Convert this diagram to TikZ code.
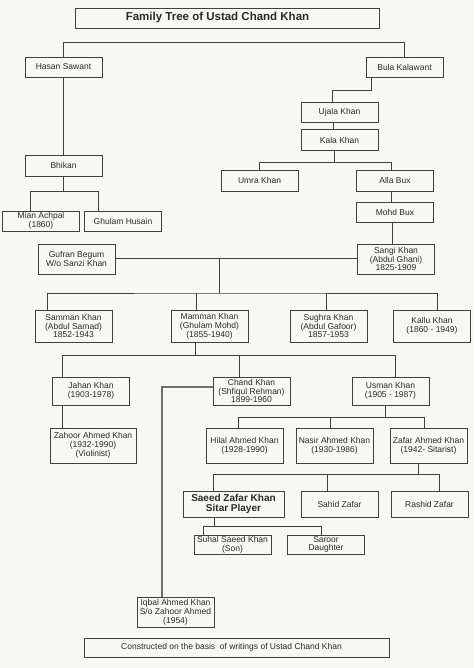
\documentclass[tikz,border=0pt]{standalone}
\usepackage{fontspec}
\setmainfont{Liberation Sans}
\definecolor{bgc}{HTML}{F7F7F3}
\definecolor{lnc}{HTML}{404040}
\definecolor{txc}{HTML}{2A2A2A}
\definecolor{lgc}{HTML}{6E6E6E}
\newcommand*{\ftxt}{\fontsize{8.5}{8.8}\selectfont}
\tikzset{person/.style={draw=lnc, line width=.8pt, fill=bgc, text=txc, minimum width=77, minimum height=20, inner sep=.5pt, align=center, font=\ftxt}}
\tikzset{link/.style={draw=lnc, line width=.8pt}}

\begin{document}
\begin{tikzpicture}[x=1pt, y=-1pt]
    \fill[bgc](0, 0) rectangle (474, 668);
    \node[person, minimum width=304, font=\fontsize{11.5}{13}\selectfont\bfseries](title) at(227, 18){Family Tree of Ustad Chand Khan\hspace*{19pt}};
    \node[person](hasan) at(63.5, 67){Hasan Sawant};
    \node[person](bula) at(404.5, 67){Bula Kalawant};
    \node[person](ujala) at(339.5, 112){Ujala Khan};
    \node[person, minimum height=21](kala) at(339.5, 140){Kala Khan};
    \node[person, minimum height=21](bhikan) at(63.5, 165.5){Bhikan};
    \node[person, minimum height=21](umra) at(259.5, 180.5){Umra Khan};
    \node[person, minimum height=21](alla) at(395, 180.5){Alla Bux};
    \node[person](mohd) at(395, 212){Mohd Bux};
    \node[person](mian) at(41, 221){Mian Achpal\\(1860)};
    \node[person](ghulam) at(123, 221){Ghulam Husain};
    \node[person, minimum height=30](gufran) at(76.5, 259){Gufran Begum\\W/o Sanzi Khan};
    \node[person, minimum height=30](sangi) at(396, 259){Sangi Khan\\(Abdul Ghani)\\1825-1909};
    %sons of Sangi Khan
    \node[person, minimum height=32](samman) at(73.5, 326){Samman Khan\\(Abdul Samad)\\1852-1943};
    \node[person, minimum height=32](mamman) at(209.5, 326){Mamman Khan\\(Ghulam Mohd)\\(1855-1940)};
    \node[person, minimum height=32](sughra) at(328.5, 326){Sughra Khan\\(Abdul Gafoor)\\1857-1953};
    \node[person, minimum height=32](kallu) at(432, 326){Kallu Khan\\(1860 - 1949)};
    %sons of Mamman Khan
    \node[person, minimum height=28](jahan) at(91, 391){Jahan Khan\\(1903-1978)};
    \node[person, minimum height=28](chand) at(251.5, 391){Chand Khan\\(Shfiqul Rehman)\\1899-1960};
    \node[person, minimum height=28](usman) at(390.5, 391){Usman Khan\\(1905 - 1987)};
    \node[person, minimum width=86, minimum height=35](zahoor) at(93, 445.5){Zahoor Ahmed Khan\\(1932-1990)\\(Violinist)};
    \node[person, minimum height=35](hilal) at(244.5, 445.5){Hilal Ahmed Khan\\(1928-1990)};
    \node[person, minimum height=35](nasir) at(334.5, 445.5){Nasir Ahmed Khan\\(1930-1986)};
    \node[person, minimum height=35](zafar) at(428.5, 445.5){Zafar Ahmed Khan\\(1942- Sitarist)};
    %sons of Zafar Ahmed Khan
    \node[person, minimum width=101, minimum height=26, font=\fontsize{10}{10.5}\selectfont\bfseries](saeed) at(233.5, 504){Saeed Zafar Khan\\Sitar Player};
    \node[person, minimum height=26](sahid) at(339.5, 504){Sahid Zafar};
    \node[person, minimum height=26](rashid) at(429.5, 504){Rashid Zafar};
    \node[person, minimum height=19](suhal) at(232.5, 544.5){Suhal Saeed Khan\\(Son)};
    \node[person, minimum height=19](saroor) at(326, 544.5){Saroor\\Daughter};
    \node[person, minimum height=30](iqbal) at(175.5, 612){Iqbal Ahmed Khan\\S/o Zahoor Ahmed\\(1954)};
    \node[person, minimum width=305, minimum height=19](footer) at(236.5, 647.5){Constructed on the basis \ of writings of Ustad Chand Khan\hspace*{10pt}};
    %links
    \draw[link](hasan.north) -- ++(0, -14) -| (bula.north);
    \draw[link](hasan) -- (bhikan);
    \draw[link]([xshift=-33]bula.south) -- ++(0, 13) -| ([xshift=-7]ujala.north);
    \draw[link]([xshift=-6]ujala.south) -- ([xshift=-6]kala.north);
    \draw[link]([xshift=-5]kala.south) -- ++(0, 12);
    \draw[link](umra.north) |- ([xshift=-5, yshift=-12]kala.south) -| ([xshift=-4]alla.north);
    \draw[link]([xshift=-4]alla.south) -- ([xshift=-4]mohd.north);
    \draw[link]([xshift=-3]mohd.south) -- ([xshift=-4]sangi.north);
    \draw[link](bhikan.south) -- ++(0, 15);
    \draw[link]([xshift=-11]mian.north) |- ([yshift=-15]bhikan.south) -| ([xshift=-25]ghulam.north);
    \draw[link]([yshift=1]gufran.east) -- coordinate[pos=.43](wed) ([yshift=1]sangi.west);	%married
    \draw[link](wed) -- ++(0, 35) coordinate(brood);
    \draw[link]([xshift=-26]samman.north) |- (brood) -| ([xshift=5]kallu.north);
    \draw[link]([xshift=-13]mamman.north) -- ++(0, -17);
    \draw[link]([xshift=-2]sughra.north) -- ++(0, -17);
    \draw[link]([xshift=-14]mamman.south) -- ++(0, 13);
    \draw[link]([xshift=-29]jahan.north) |- ([xshift=-14, yshift=-13]mamman.south) -| ([xshift=4.5]usman.north);
    \draw[link]([xshift=-12.5]chand.north) -- ++(0, -22);
    \draw[link, draw=lgc, line width=1.2pt]([yshift=4]chand.west) -| ([xshift=-13.5]iqbal.north);
    \draw[link]([xshift=-29]jahan.south) -- ([xshift=-31]zahoor.north);
    \draw[link]([xshift=-5.5]usman.south) -- ++(0, 12);
    \draw[link]([xshift=-6.5]hilal.north) |- ([xshift=-5.5, yshift=-12]usman.south) -| ([xshift=-4.5]zafar.north);
    \draw[link]([xshift=-4.5]nasir.north) -- ++(0, -11);
    \draw[link]([xshift=-10.5]zafar.south) -- ++(0, 11);
    \draw[link]([xshift=-20.5]saeed.north) |- ([xshift=-10.5, yshift=-11]zafar.south) -| ([xshift=9.5]rashid.north);
    \draw[link]([xshift=-12.5]sahid.north) -- ++(0, -17);
    \draw[link]([xshift=-19.5]saeed.south) -- ++(0, 9);
    \draw[link]([xshift=-29.5]suhal.north) |- ([xshift=-19.5, yshift=-9]saeed.south) -| ([xshift=-5]saroor.north);
\end{tikzpicture}
\end{document}
